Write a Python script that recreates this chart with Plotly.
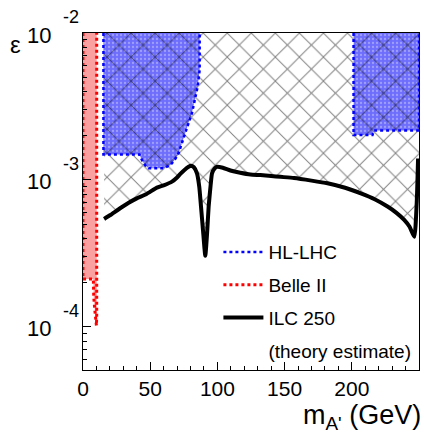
import math
import plotly.graph_objects as go

# ---------------- data ----------------
# ILC 250 (theory estimate) sensitivity curve
ilc_mass = [15.7, 20, 27.6, 34, 40, 47, 55, 60, 66.2, 70, 72.4, 75.5, 78.6, 80.3, 82.5,
            84.8, 86.5, 87.8, 89.5, 91.0, 92.3, 93.5, 95, 96.0, 98, 99.8, 104, 109.7, 117,
            124.6, 132, 140, 147, 157, 170, 181.9, 195, 206.7, 217, 226.6, 233, 239, 243,
            246.5, 248.3, 249.3]
ilc_eps = [5.43e-4, 5.75e-4, 6.42e-4, 7.0e-4, 7.5e-4, 8.0e-4, 8.87e-4, 9.2e-4, 9.75e-4,
           1.04e-3, 1.1e-3, 1.17e-3, 1.23e-3, 1.25e-3, 1.22e-3, 1.11e-3, 9.0e-4, 6.6e-4,
           4.3e-4, 3.05e-4, 4.3e-4, 6.6e-4, 9.3e-4, 1.11e-3, 1.2e-3, 1.23e-3, 1.21e-3,
           1.16e-3, 1.12e-3, 1.09e-3, 1.08e-3, 1.065e-3, 1.05e-3, 1.03e-3, 9.9e-4, 9.5e-4,
           8.85e-4, 8.1e-4, 7.4e-4, 6.6e-4, 6.0e-4, 5.35e-4, 4.8e-4, 4.1e-4, 7.0e-4, 1.4e-3]

# HL-LHC excluded regions
hl1_mass = [15.2, 15.2, 42.0, 43.8, 46.5, 48.8, 59.9, 64.9, 68.5, 71.1, 76.1, 81.1, 85.3,
            86.8, 86.8]
hl1_eps = [1e-2, 1.49e-3, 1.49e-3, 1.37e-3, 1.25e-3, 1.2e-3, 1.2e-3, 1.26e-3, 1.38e-3,
           1.52e-3, 2.09e-3, 2.86e-3, 4.3e-3, 5.6e-3, 1e-2]
hl2_mass = [201.3, 201.3, 215.4, 216.5, 250, 250]
hl2_eps = [1e-2, 2.02e-3, 2.02e-3, 2.17e-3, 2.17e-3, 1e-2]

# Belle II region
belle_mass = [0, 0, 7.7, 8.0, 8.8, 9.5, 10.0, 10.2, 10.2]
belle_eps = [1e-2, 2.12e-4, 2.12e-4, 1.6e-4, 1.3e-4, 1.1e-4, 1.02e-4, 1.2e-4, 1e-2]

# axis ticks
x_tick_vals = [0, 50, 100, 150, 200]
x_minor_vals = [10, 20, 30, 40, 60, 70, 80, 90, 110, 120, 130, 140, 160, 170, 180, 190,
                210, 220, 230, 240]
y_tick_vals = [1e-4, 1e-3, 1e-2]
y_tick_exp = ["-4", "-3", "-2"]
y_minor_vals = [k * 10.0 ** e for e in (-5, -4, -3) for k in range(2, 10)]

EPS_TOP = 1e-2
Y_RANGE = [-4.293, -2.0]

FONT = "Liberation Sans, Arial, Helvetica, sans-serif"

fig = go.Figure()

# Belle II fill
fig.add_trace(go.Scatter(x=belle_mass, y=belle_eps, mode="lines", fill="toself",
                         fillcolor="rgb(250,160,160)", line=dict(width=0),
                         showlegend=False, hoverinfo="skip"))
# HL-LHC fills
for hx, hy in ((hl1_mass, hl1_eps), (hl2_mass, hl2_eps)):
    fig.add_trace(go.Scatter(x=hx, y=hy, mode="lines", fill="toself",
                             fillcolor="rgb(120,120,250)",
                             fillpattern=dict(shape=".", size=4, solidity=0.25,
                                              fgcolor="rgb(205,205,255)",
                                              bgcolor="rgb(110,110,252)"),
                             line=dict(width=0), showlegend=False, hoverinfo="skip"))
# Hatched region above ILC curve
hatch_x = ilc_mass + [250, 250, ilc_mass[0]]
hatch_y = ilc_eps + [ilc_eps[-1], EPS_TOP, EPS_TOP]
fig.add_trace(go.Scatter(x=hatch_x, y=hatch_y, mode="lines", fill="toself",
                         fillcolor="rgba(0,0,0,0)",
                         fillpattern=dict(shape="x", size=17, solidity=0.11,
                                          fgcolor="black", bgcolor="rgba(0,0,0,0)"),
                         line=dict(width=0), showlegend=False, hoverinfo="skip"))

# Outlines (legend entries)
fig.add_trace(go.Scatter(x=hl1_mass, y=hl1_eps, mode="lines", name="HL-LHC",
                         line=dict(color="blue", width=2.5, dash="dot"),
                         legendgroup="a", legendrank=1))
fig.add_trace(go.Scatter(x=hl2_mass, y=hl2_eps, mode="lines", name="HL-LHC",
                         line=dict(color="blue", width=2.5, dash="dot"),
                         legendgroup="a", showlegend=False))
fig.add_trace(go.Scatter(x=belle_mass, y=belle_eps, mode="lines", name="Belle II",
                         line=dict(color="red", width=3, dash="dot"),
                         legendgroup="b", legendrank=2))
fig.add_trace(go.Scatter(x=ilc_mass, y=ilc_eps, mode="lines", name="ILC 250",
                         line=dict(color="black", width=4, shape="spline", smoothing=0.5),
                         legendgroup="c", legendrank=3))
fig.add_trace(go.Scatter(x=[None], y=[None], mode="lines", name="(theory estimate)",
                         line=dict(color="rgba(0,0,0,0)", width=0),
                         legendgroup="d", legendrank=4))

# y tick labels (ROOT style 10^n)
ann = []
for v, e in zip(y_tick_vals, y_tick_exp):
    ly = math.log10(v)
    ann.append(dict(x=0, xref="paper", y=ly, yref="y", text="10", showarrow=False,
                    xanchor="right", yanchor="middle", xshift=-30, yshift=-2,
                    font=dict(size=22, color="black", family=FONT)))
    ann.append(dict(x=0, xref="paper", y=ly, yref="y", text=e, showarrow=False,
                    xanchor="left", yanchor="middle", xshift=-22, yshift=16,
                    font=dict(size=18, color="black", family=FONT)))
# axis titles
ann.append(dict(x=0, xref="paper", y=1, yref="paper", text="ε", showarrow=False,
                xanchor="center", yanchor="middle", xshift=-68, yshift=-11,
                font=dict(size=24, color="black", family=FONT)))
ann.append(dict(x=1, xref="paper", y=0, yref="paper", text="m<sub>A'</sub> (GeV)",
                showarrow=False, xanchor="right", yanchor="top", xshift=4, yshift=-28,
                font=dict(size=27, color="black", family=FONT)))

fig.update_layout(
    width=424, height=433,
    margin=dict(l=83, r=5, t=33, b=63),
    paper_bgcolor="white", plot_bgcolor="white",
    font=dict(family=FONT, color="black"),
    annotations=ann,
    legend=dict(x=0.403, y=0.406, xanchor="left", yanchor="top",
                bgcolor="rgba(0,0,0,0)", font=dict(size=19, family=FONT),
                traceorder="grouped", tracegroupgap=5, itemwidth=40, valign="middle"),
    xaxis=dict(range=[0, 250], tickvals=x_tick_vals, ticks="inside", ticklen=8,
               tickcolor="black", showline=True, linecolor="black", linewidth=1,
               mirror=True, showgrid=False, zeroline=False,
               tickfont=dict(size=21, family=FONT),
               minor=dict(tickvals=x_minor_vals, ticks="inside", ticklen=4,
                          tickcolor="black", showgrid=False)),
    yaxis=dict(type="log", range=Y_RANGE, tickvals=y_tick_vals, ticks="inside",
               ticklen=8, tickcolor="black", showticklabels=False, showline=True,
               linecolor="black", linewidth=1, mirror=True, showgrid=False,
               zeroline=False,
               minor=dict(tickvals=y_minor_vals, ticks="inside", ticklen=4,
                          tickcolor="black", showgrid=False)),
)

fig.write_html("out.html", config={"displayModeBar": False},
               post_script="document.body.style.margin='0';")
